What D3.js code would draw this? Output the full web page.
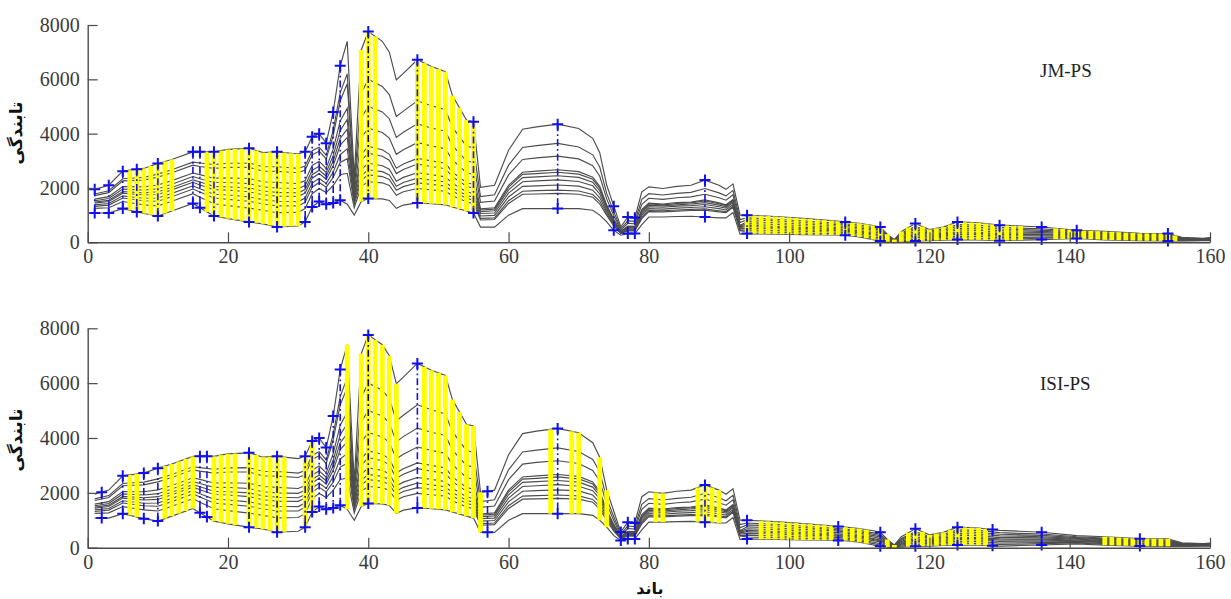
<!DOCTYPE html>
<html><head><meta charset="utf-8">
<script src="https://cdn.jsdelivr.net/npm/d3@7"></script>
<style>body{margin:0;background:#fff}svg{display:block}</style>
</head><body>
<svg id="chart" width="1231" height="599"></svg>
<script>
// ---- data ----
const keyBands=[1,3,5,8,10,12,15,16,18,20,23,25,27,30,31,32,33,34,35,36,37,38,39,40,42,43,44,45,47,49,51,52,54,55,56,58,60,62,64,67,70,72,73,74,75,76,77,78,79,80,82,84,86,88,90,91,92,93,94,98,102,106,108,110,112,113,114,115,116,118,120,122,124,127,130,133,136,141,145,150,154,156,159,160];
// radiance of the 11 spectra at each key band (one row per key band)
const radianceByBand=[
[1950,1780,1720,1590,1530,1480,1440,1380,1320,1250,1080],
[2100,1900,1830,1680,1610,1550,1500,1430,1370,1270,1080],
[2620,2340,2260,2050,1960,1870,1810,1710,1630,1500,1240],
[2720,2390,2290,2040,1920,1820,1740,1620,1530,1380,1060],
[2900,2510,2400,2110,1970,1860,1760,1630,1510,1340,970],
[3050,2670,2560,2270,2140,2020,1930,1800,1680,1510,1150],
[3330,2950,2840,2550,2420,2300,2210,2080,1960,1790,1430],
[3330,2920,2790,2490,2340,2220,2110,1970,1850,1660,1270],
[3330,2860,2720,2360,2200,2060,1940,1770,1630,1420,970],
[3420,2910,2760,2370,2200,2040,1920,1740,1580,1350,870],
[3460,2920,2760,2350,2160,2000,1860,1670,1510,1260,750],
[3300,2780,2620,2230,2040,1890,1750,1570,1410,1180,680],
[3330,2780,2610,2200,2000,1840,1700,1510,1340,1090,565],
[3250,2720,2560,2160,1980,1820,1690,1500,1340,1100,600],
[3330,2810,2660,2270,2090,1940,1810,1630,1470,1240,750],
[3890,3370,3220,2830,2650,2490,2360,2180,2030,1790,1300],
[4000,3500,3350,2980,2800,2650,2530,2350,2200,1980,1500],
[3650,3200,3070,2730,2570,2440,2320,2170,2030,1830,1400],
[4800,4130,3930,3430,3190,2990,2820,2590,2390,2090,1450],
[6500,5510,5210,4470,4120,3830,3580,3230,2940,2490,1550],
[7400,6200,5840,4940,4520,4160,3860,3440,3080,2540,1400],
[2400,2120,2040,1830,1730,1640,1570,1480,1390,1270,1000],
[7080,5480,4580,3850,3240,3010,2680,2460,2290,2060,1500],
[7760,6000,5000,4200,3530,3280,2910,2670,2480,2230,1610],
[7400,5740,4800,4040,3410,3170,2820,2600,2420,2190,1600],
[7000,5440,4550,3840,3240,3020,2690,2480,2310,2090,1540],
[5980,4630,3860,3240,2730,2530,2250,2060,1920,1730,1250],
[6220,4830,4050,3410,2880,2680,2390,2200,2050,1860,1370],
[6720,5210,4360,3670,3090,2880,2560,2360,2190,1980,1450],
[6470,5030,4210,3550,3000,2790,2490,2290,2130,1930,1420],
[6280,4880,4090,3440,2910,2710,2410,2220,2070,1880,1380],
[5400,4230,3560,3030,2580,2410,2170,2010,1880,1710,1300],
[4500,3540,3000,2560,2200,2060,1860,1730,1620,1490,1150],
[4440,3480,2940,2500,2130,1990,1790,1660,1550,1420,1080],
[2020,1680,1470,1230,1190,1130,1060,970,880,820,560],
[2100,1750,1520,1270,1220,1160,1080,990,900,840,560],
[3390,2840,2480,2100,2030,1930,1810,1670,1530,1430,1000],
[4160,3490,3050,2580,2500,2380,2230,2060,1880,1770,1240],
[4250,3560,3110,2620,2530,2410,2260,2080,1900,1780,1240],
[4350,3640,3170,2670,2580,2450,2300,2110,1920,1800,1240],
[4190,3510,3070,2600,2510,2390,2240,2070,1890,1770,1240],
[3830,3220,2820,2400,2320,2210,2080,1920,1760,1660,1180],
[3300,2770,2430,2060,1990,1900,1780,1640,1510,1410,1000],
[2100,1790,1590,1370,1330,1280,1210,1130,1050,990,750],
[1330,1130,990,850,820,790,740,690,640,600,440],
[570,500,450,400,390,380,370,350,330,320,260],
[930,790,700,600,580,560,530,490,450,430,320],
[900,770,680,590,570,550,520,480,450,420,320],
[1860,1580,1400,1210,1170,1120,1060,990,920,870,650],
[2040,1790,1620,1440,1410,1360,1310,1240,1170,1130,930],
[1980,1740,1580,1410,1380,1340,1290,1220,1160,1120,930],
[2060,1800,1640,1460,1430,1380,1330,1260,1190,1150,950],
[2100,1840,1670,1480,1450,1410,1350,1280,1210,1170,960],
[2290,1980,1770,1560,1520,1460,1390,1310,1230,1180,930],
[2100,1820,1640,1450,1420,1370,1310,1240,1160,1120,900],
[1950,1710,1550,1380,1350,1310,1260,1190,1130,1090,900],
[2150,1910,1750,1580,1550,1510,1460,1390,1330,1290,1100],
[1000,840,730,620,600,570,540,500,450,430,300],
[1000,900,830,760,690,630,580,520,460,390,320],
[950,850,790,720,660,590,550,500,430,370,300],
[880,790,730,670,610,550,510,460,400,340,280],
[800,720,670,620,560,510,470,430,380,320,270],
[750,680,630,580,530,480,450,410,360,310,260],
[700,630,580,530,480,430,390,350,300,250,200],
[620,540,490,440,390,330,300,260,200,150,100],
[565,490,440,390,330,280,250,210,150,100,50],
[300,260,230,200,170,150,130,100,80,50,20],
[100,85,75,65,55,45,38,30,20,10,0],
[400,340,310,270,230,190,160,130,100,60,20],
[690,590,530,470,400,340,290,240,180,110,50],
[470,410,370,330,290,250,220,180,140,100,60],
[560,490,440,390,340,300,260,220,180,130,80],
[750,650,590,520,460,390,350,300,230,170,100],
[720,630,560,500,440,370,330,280,220,150,90],
[630,550,490,430,370,320,280,230,170,120,60],
[600,520,470,420,370,310,280,240,180,130,80],
[565,500,450,400,360,310,280,240,190,150,100],
[440,400,370,340,310,280,250,230,200,170,140],
[400,350,320,290,260,230,210,180,150,120,90],
[330,290,260,240,210,180,160,140,110,90,60],
[320,280,250,230,200,170,150,130,100,80,50],
[180,160,150,135,120,110,100,90,75,60,50],
[150,140,130,120,110,100,95,85,80,70,60],
[170,150,140,130,120,110,100,90,80,70,60]
];
const xTickValues=[0,20,40,60,80,100,120,140,160];
const yTickValues=[0,2000,4000,6000,8000];
const panelNames=["JM-PS","ISI-PS"];
const yLabel="تابندگی";
const xLabel="باند";
// selected band ranges (yellow) for each method
const jmYellowRanges=[[6,12],[17,30],[39,41],[47,55],[94,133],[138,155]];
const isiYellowRanges=[[6,7],[11,15],[18,21],[23,28],[31,32],[37,37],[39,44],[48,55],[56,56],[66,66],[69,70],[73,74],[81,82],[87,90],[96,106],[108,111],[114,115],[117,128],[145,154]];
// bands marked with + (min/max) and dash-dot
const jmMarkerBands=[1,3,5,7,10,15,16,18,23,27,31,32,33,34,35,36,40,47,55,67,75,77,78,88,94,108,113,118,124,130,136,141,154];
const isiMarkerBands=[2,5,8,10,16,17,23,27,31,32,33,34,35,36,40,47,57,67,76,77,78,88,94,107,113,118,124,129,136,150];
const jmBlackMarkerBands=[23,27,40];
const isiBlackMarkerBands=[23,27,40];

// ---- drawing ----
const svg=d3.select("#chart");
const spectra=d3.transpose(radianceByBand); // 11 series
const lineScales=spectra.map(s=>d3.scaleLinear().domain(keyBands).range(s));
const extentAt=b=>d3.extent(lineScales.map(f=>f(b)));
const expand=r=>r.flatMap(([a,b])=>d3.range(a,b+1));

const panels=[
 {name:panelNames[0],top:25,bottom:242.3,yellow:expand(jmYellowRanges),markers:jmMarkerBands,black:jmBlackMarkerBands,labelY:77,ylabY:133},
 {name:panelNames[1],top:328.3,bottom:547.7,yellow:expand(isiYellowRanges),markers:isiMarkerBands,black:isiBlackMarkerBands,labelY:390,ylabY:440}
];
const x=d3.scaleLinear().domain([0,160]).range([87.7,1210]);
const axisColor="#4a4a4a";
const font="'Liberation Serif', 'DejaVu Serif', serif";

panels.forEach(p=>{
  const y=d3.scaleLinear().domain([0,8000]).range([p.bottom,p.top]);
  const g=svg.append("g");
  const line=d3.line().x(d=>x(d[0])).y(d=>y(d[1]));
  g.selectAll("path.spec").data(spectra).join("path").attr("class","spec")
    .attr("d",s=>line(keyBands.map((b,i)=>[b,s[i]])))
    .attr("fill","none").attr("stroke","#4d4d4d").attr("stroke-width",1.15);
  g.selectAll("rect.sel").data(p.yellow).join("rect").attr("class","sel")
    .attr("x",b=>x(b)-2.4).attr("width",4.8)
    .attr("y",b=>y(extentAt(b)[1])).attr("height",b=>y(extentAt(b)[0])-y(extentAt(b)[1]))
    .attr("fill","#ffff00");
  g.selectAll("line.mk").data(p.markers).join("line").attr("class","mk")
    .attr("x1",b=>x(b)).attr("x2",b=>x(b))
    .attr("y1",b=>y(extentAt(b)[1])).attr("y2",b=>y(extentAt(b)[0]))
    .attr("stroke",b=>p.black.includes(b)?"#111":"#1515d8").attr("stroke-width",1.6)
    .attr("stroke-dasharray","7,3,1.8,3");
  const pts=p.markers.flatMap(b=>{const e=extentAt(b);return [[b,e[0]],[b,e[1]]];});
  g.selectAll("path.plus").data(pts).join("path").attr("class","plus")
    .attr("transform",d=>`translate(${x(d[0])},${y(d[1])})`)
    .attr("d","M-5.5,0H5.5M0,-5.5V5.5").attr("stroke","#1010ee").attr("stroke-width",2);
  const ax=g.append("g").attr("transform",`translate(0,${p.bottom})`)
    .call(d3.axisBottom(x).tickValues(xTickValues).tickFormat(d3.format("d")).tickSizeInner(-10).tickSizeOuter(0).tickPadding(7));
  const ay=g.append("g").attr("transform",`translate(${x(0)},0)`)
    .call(d3.axisLeft(y).tickValues(yTickValues).tickFormat(d3.format("d")).tickSizeInner(-10).tickSizeOuter(0).tickPadding(8));
  [ax,ay].forEach(a=>{
    a.select(".domain").attr("stroke",axisColor).attr("stroke-width",1.4);
    a.selectAll(".tick line").attr("stroke",axisColor).attr("stroke-width",1.2);
    a.selectAll(".tick text").attr("fill","#3a3a3a").style("font-family",font).style("font-size","20px");
  });
  g.append("text").attr("x",1040).attr("y",p.labelY).text(p.name)
    .attr("fill","#222").style("font-family",font).style("font-size","19px");
  g.append("text").attr("transform",`translate(22,${p.ylabY}) rotate(-90)`).attr("text-anchor","middle")
    .text(yLabel).attr("fill","#111").style("font-family","'DejaVu Sans', sans-serif")
    .style("font-weight","bold").style("font-size","17px");
});
svg.append("text").attr("x",650).attr("y",594).attr("text-anchor","middle").text(xLabel)
  .attr("fill","#111").style("font-family","'DejaVu Sans', sans-serif").style("font-weight","bold").style("font-size","16px");
</script>
</body></html>
